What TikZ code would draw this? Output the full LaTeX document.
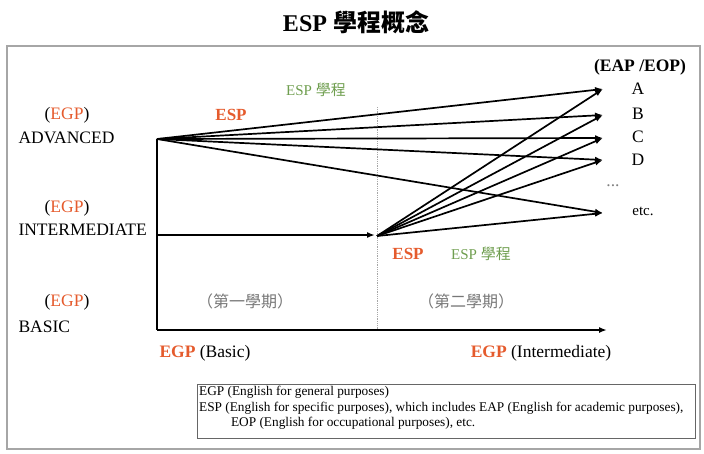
\documentclass[tikz,border=0pt]{standalone}
\usepackage{fontspec}
\setmainfont{Liberation Serif}
\newfontfamily\cjk{Noto Sans CJK TC}
\usetikzlibrary{arrows.meta}
\definecolor{espred}{HTML}{E55B2D}
\definecolor{espgreen}{HTML}{6F9E4F}
\definecolor{termgray}{HTML}{777777}
\begin{document}
\begin{tikzpicture}[x=1pt,y=-1pt,
  conn/.style={line width=1.7pt,-{Latex[length=8pt,width=6pt]}},
  axisline/.style={line width=1.8pt},
  lvl/.style={anchor=west,font=\fontsize{17.5}{19}\selectfont},
  egp/.style={font=\fontsize{17.5}{19}\selectfont},
  tgt/.style={font=\fontsize{17.5}{19}\selectfont},
  redlbl/.style={text=espred,font=\bfseries\fontsize{17}{19}\selectfont},
  greenlbl/.style={text=espgreen,font=\fontsize{15}{17}\selectfont},
  term/.style={text=termgray,font=\cjk\fontsize{16}{18}\selectfont},
  axlbl/.style={font=\fontsize{17.5}{19}\selectfont}
]
\useasboundingbox (0,0) rectangle (704,453);
% frame
\draw[gray!70,line width=1.5pt] (7,46) rectangle (700,449);
% title
\node[font=\bfseries\fontsize{24}{26}\selectfont] (title) at (356,22) {ESP {\cjk 學程概念}};
% left labels
\node[egp] (egpA) at (67,115) {(\textcolor{espred}{EGP})};
\node[lvl] (adv) at (15,138) {ADVANCED};
\node[egp] (egpI) at (67,208) {(\textcolor{espred}{EGP})};
\node[lvl] (inter) at (15,230) {INTERMEDIATE};
\node[egp] (egpB) at (67,302) {(\textcolor{espred}{EGP})};
\node[lvl] (basic) at (15,327) {BASIC};
% key points
\coordinate (o) at (157,139);
\coordinate (oi) at (157,235);
\coordinate (ob) at (157,330);
\coordinate (m) at (377,236);
\coordinate (mtip) at (375,235);
\coordinate (axend) at (607,330);
\coordinate (tA) at (603,89);
\coordinate (tB) at (603,115);
\coordinate (tC) at (603,138);
\coordinate (tD) at (603,160);
\coordinate (tE) at (603,213);
\coordinate (dtop) at (377,107);
\coordinate (dbot) at (377,330);
% dotted divider
\draw[gray!70,densely dotted,line width=0.8pt] (dtop) -- (dbot);
% axes
\draw[axisline] (o) -- (ob);
\draw[conn] (ob) -- (axend);
\draw[conn] (oi) -- (mtip);
% fans
\foreach \t in {tA,tB,tC,tD,tE}{
  \draw[conn] (o) -- (\t);
  \draw[conn] (m) -- (\t);
}
% target labels
\node[font=\bfseries\fontsize{17.5}{19}\selectfont] (eapeop) at (640,67) {(EAP /EOP)};
\node[tgt] (lA) at (638,89) {A};
\node[tgt] (lB) at (638,114) {B};
\node[tgt] (lC) at (638,137) {C};
\node[tgt] (lD) at (638,160) {D};
\node[tgt,text=gray] (ldots) at (613,186) {...};
\node[font=\fontsize{15}{17}\selectfont] (letc) at (643,211) {etc.};
% ESP labels
\node[redlbl] (esp1) at (231,115) {ESP};
\node[greenlbl] (espg1) at (316,90) {ESP {\cjk 學程}};
\node[redlbl] (esp2) at (408,254) {ESP};
\node[greenlbl] (espg2) at (481,254) {ESP {\cjk 學程}};
% terms
\node[term] (t1) at (245,301) {（第一學期）};
\node[term] (t2) at (466,301) {（第二學期）};
% axis labels
\node[axlbl] (xb) at (205,353) {\textcolor{espred}{\textbf{EGP}} (Basic)};
\node[axlbl] (xi) at (541,353) {\textcolor{espred}{\textbf{EGP}} (Intermediate)};
% legend
\draw[black!60,line width=1pt] (197,384) rectangle (695,438);
\node[anchor=north west,align=left,inner sep=0pt,font=\fontsize{13.3}{15.5}\selectfont] (legend) at (199,386)
 {EGP (English for general purposes)\\
  ESP (English for specific purposes), which includes EAP (English for academic purposes),\\
  \hspace*{2.4em}EOP (English for occupational purposes), etc.};
\end{tikzpicture}
\end{document}
